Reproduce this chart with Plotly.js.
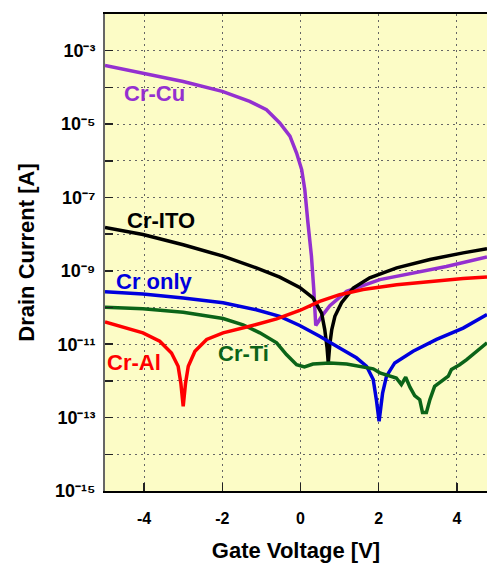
<!DOCTYPE html>
<html>
<head>
<meta charset="utf-8">
<script src="https://cdn.plot.ly/plotly-3.0.1.min.js"></script>
<style>html,body{margin:0;padding:0;background:#fff;overflow:hidden;}</style>
</head>
<body>
<div id="chart" style="width:487px;height:566px;"></div>
<script>
// Gate voltage [V] and log10(drain current [A])
const cuX = [-5, -4, -3, -2, -1.3, -0.87, -0.53, -0.27, -0.10, 0.03, 0.11, 0.19, 0.28, 0.34, 0.39, 0.46, 0.54, 0.75, 1.0, 1.18, 2.03, 2.88, 3.73, 4.77];
const cuLog = [-3.40, -3.63, -3.84, -4.11, -4.38, -4.61, -4.97, -5.33, -5.79, -6.24, -6.79, -7.69, -8.60, -9.51, -10.49, -10.38, -10.24, -9.95, -9.72, -9.56, -9.24, -9.06, -8.88, -8.62];

const itoX = [-5, -4.03, -3.0, -1.98, -1.13, -0.53, -0.02, 0.32, 0.54, 0.62, 0.68, 0.71, 0.75, 0.80, 0.88, 1.05, 1.35, 1.77, 2.46, 3.31, 4.16, 4.77];
const itoLog = [-7.82, -8.01, -8.29, -8.60, -8.92, -9.17, -9.45, -9.74, -10.15, -10.6, -11.1, -11.51, -11.0, -10.6, -10.24, -9.87, -9.47, -9.19, -8.92, -8.69, -8.51, -8.40];

const crX = [-5, -4.03, -3.0, -1.98, -1.13, -0.53, -0.02, 0.49, 1.0, 1.43, 1.69, 1.86, 1.94, 2.01, 2.10, 2.20, 2.41, 2.88, 3.48, 4.16, 4.77];
const crLog = [-9.57, -9.63, -9.74, -9.87, -10.06, -10.24, -10.49, -10.78, -11.10, -11.37, -11.60, -11.96, -12.51, -13.10, -12.33, -11.87, -11.51, -11.19, -10.87, -10.56, -10.19];

const tiX = [-5, -4.03, -3.0, -1.98, -1.47, -1.04, -0.61, -0.36, -0.10, 0.1, 0.32, 0.75, 1.18, 1.6, 1.86, 2.03, 2.28, 2.45, 2.58, 2.69, 2.80, 2.92, 3.05, 3.12, 3.22, 3.31, 3.43, 3.60, 3.78, 3.86, 4.07, 4.25, 4.46, 4.77];
const tiLog = [-9.99, -10.03, -10.13, -10.30, -10.47, -10.69, -10.96, -11.28, -11.56, -11.62, -11.54, -11.51, -11.54, -11.62, -11.67, -11.78, -11.85, -11.92, -12.10, -11.90, -12.17, -12.40, -12.51, -12.86, -12.86, -12.51, -12.15, -12.01, -11.87, -11.69, -11.56, -11.42, -11.24, -10.96];

const alX = [-5, -4.62, -4.03, -3.60, -3.30, -3.13, -3.06, -3.0, -2.94, -2.87, -2.70, -2.40, -1.98, -1.30, -0.61, -0.02, 0.49, 1.0, 1.6, 2.46, 3.31, 4.16, 4.77];
const alLog = [-10.39, -10.51, -10.69, -10.92, -11.24, -11.60, -12.06, -12.69, -12.06, -11.60, -11.19, -10.87, -10.69, -10.51, -10.31, -10.08, -9.83, -9.65, -9.51, -9.38, -9.29, -9.21, -9.17];

const seriesNames = ['Cr-Cu', 'Cr-ITO', 'Cr only', 'Cr-Ti', 'Cr-Al'];
const seriesColors = ['#9430D0', '#000000', '#0000DD', '#0B6418', '#FF0000'];

const xTickVals = [-4, -2, 0, 2, 4];
const xTickText = ['-4', '-2', '0', '2', '4'];
const yMajorExps = [-15, -13, -11, -9, -7, -5, -3];
const yMajorText = ['10\u207B\u00B9\u2075', '10\u207B\u00B9\u00B3', '10\u207B\u00B9\u00B9', '10\u207B\u2079', '10\u207B\u2077', '10\u207B\u2075', '10\u207B\u00B3'];
const yMinorExps = [-14, -12, -10, -8, -6, -4, -2];

// label anchor positions: [x, log10 y]
const labelX = [-3.73, -3.56, -3.73, -1.45, -4.25];
const labelLog = [-4.17, -7.62, -9.28, -11.26, -11.50];

const xs = [cuX, itoX, crX, tiX, alX];
const logs = [cuLog, itoLog, crLog, tiLog, alLog];

const FONT = 'Liberation Sans, Arial, Helvetica, sans-serif';
const GRID = {showgrid: true, gridcolor: '#666', gridwidth: 1, griddash: '2px,4px'};

const traces = seriesNames.map((n, i) => ({
  type: 'scatter', mode: 'lines', name: n,
  x: xs[i], y: logs[i].map(v => Math.pow(10, v)),
  line: {color: seriesColors[i], width: 3.5},
  hoverinfo: 'x+y+name'
}));

const annotations = seriesNames.map((n, i) => ({
  x: labelX[i], y: labelLog[i], xref: 'x', yref: 'y',
  text: n, showarrow: false,
  font: {family: FONT, size: 22, color: seriesColors[i], weight: 'bold'}
}));

const layout = {
  width: 487, height: 566,
  margin: {l: 105, r: 0, t: 14, b: 75},
  paper_bgcolor: '#ffffff',
  plot_bgcolor: '#FCFCC6',
  showlegend: false,
  font: {family: FONT, color: '#000'},
  xaxis: Object.assign({
    range: [-5, 4.77],
    tickmode: 'array', tickvals: xTickVals, ticktext: xTickText,
    ticks: 'inside', ticklen: 8, tickwidth: 1.5, tickcolor: '#222',
    showline: true, linecolor: '#000', linewidth: 2, mirror: true,
    zeroline: false,
    tickfont: {family: FONT, size: 16, weight: 'bold', color: '#000'},
    ticklabelstandoff: 12,
    title: {text: '\u00a0\u00a0\u00a0\u00a0\u00a0Gate Voltage [V]', font: {family: FONT, size: 22, weight: 'bold', color: '#000'}, standoff: 16},
    automargin: false
  }, GRID),
  yaxis: Object.assign({
    type: 'log', range: [-15, -2],
    tickmode: 'array',
    tickvals: yMajorExps.map(e => Math.pow(10, e)),
    ticktext: yMajorText,
    ticks: 'inside', ticklen: 8, tickwidth: 1.5, tickcolor: '#222',
    minor: Object.assign({
      tickmode: 'array', tickvals: yMinorExps.map(e => Math.pow(10, e)),
      ticks: 'inside', ticklen: 8, tickwidth: 1.5, tickcolor: '#222'
    }, GRID),
    showline: true, linecolor: '#666', linewidth: 2,
    zeroline: false,
    tickfont: {family: FONT, size: 18, weight: 'bold', color: '#000'},
    ticklabelstandoff: 4,
    title: {text: 'Drain Current [A]', font: {family: FONT, size: 22, weight: 'bold', color: '#000'}, standoff: 14},
    automargin: false
  }, GRID),
  annotations: annotations
};

Plotly.newPlot('chart', traces, layout, {displayModeBar: false, staticPlot: true});
</script>
</body>
</html>
